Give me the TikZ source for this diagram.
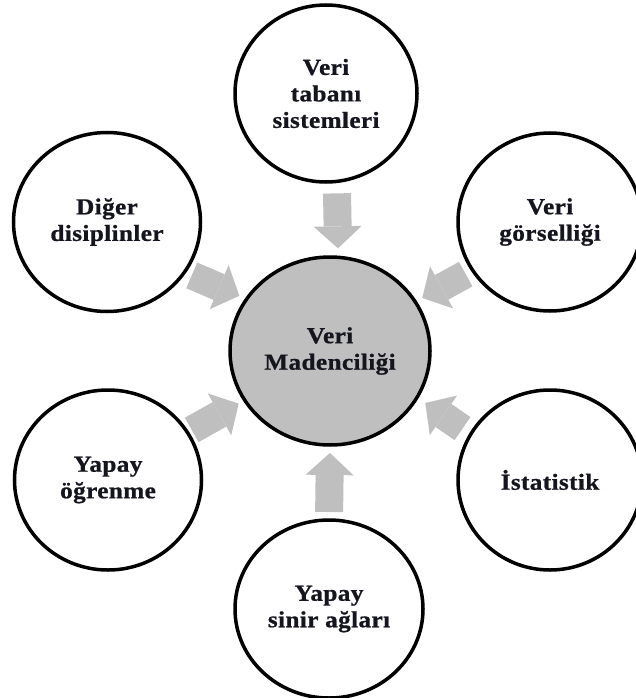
\documentclass[tikz,border=0pt]{standalone}
\usepackage{fontspec}
\setmainfont{Liberation Serif}[BoldFont={Liberation Serif Bold}]
\usetikzlibrary{shapes.geometric,arrows.meta}
\definecolor{arrowgray}{HTML}{BFBFBF}
\definecolor{inkdark}{HTML}{15151F}
\begin{document}
\begin{tikzpicture}[x=1pt,y=-1pt,
  topic/.style={ellipse, draw=black, line width=3.5pt, outer sep=0pt, inner sep=0pt,
    align=center, text=inkdark,
    font=\bfseries\fontsize{23}{26.5}\selectfont\addfontfeature{FakeStretch=1.1,LetterSpace=1.5,FakeBold=0.8}},
  core/.style={topic, fill=arrowgray},
  feed/.style={draw=arrowgray, line width=28pt,
    -{Triangle[length=22pt,width=48pt,line width=0pt 0]}}]
\useasboundingbox (0,0) rectangle (635,698);

% central discipline and the contributing fields around it
\node[core, minimum width=200pt, minimum height=188pt] (mid) at (330,351) {Veri\\Madenciliği};
\node[topic, minimum width=182pt, minimum height=177pt] (top) at (326,93.5) {Veri\\tabanı\\sistemleri};
\node[topic, minimum width=187pt, minimum height=179pt] (ul) at (107,222) {Diğer\\disiplinler};
\node[topic, minimum width=184pt, minimum height=178pt] (ur) at (550,222) {Veri\\görselliği};
\node[topic, minimum width=187pt, minimum height=180pt] (ll) at (108,480) {Yapay\\öğrenme};
\node[topic, minimum width=184pt, minimum height=180pt] (lr) at (550,480) {İstatistik};
\node[topic, minimum width=188pt, minimum height=178pt] (bot) at (329,609) {Yapay\\sinir ağları};

% block arrows pointing into the centre
\draw[feed, shorten <=12pt, shorten >=9pt] (top.-83) -- (mid.85);
\draw[feed, shorten <=8pt, shorten >=8pt] (ul.-33) -- (mid.148);
\draw[feed, shorten <=8pt, shorten >=8pt] (ur.212) -- (mid.30);
\draw[feed, shorten <=5pt, shorten >=7pt] (ll.31) -- (mid.210);
\draw[feed, shorten <=10pt, shorten >=10pt] (lr.150) -- (mid.332);
\draw[feed, shorten <=8pt, shorten >=8pt] (bot.90) -- (mid.270);
\end{tikzpicture}
\end{document}
